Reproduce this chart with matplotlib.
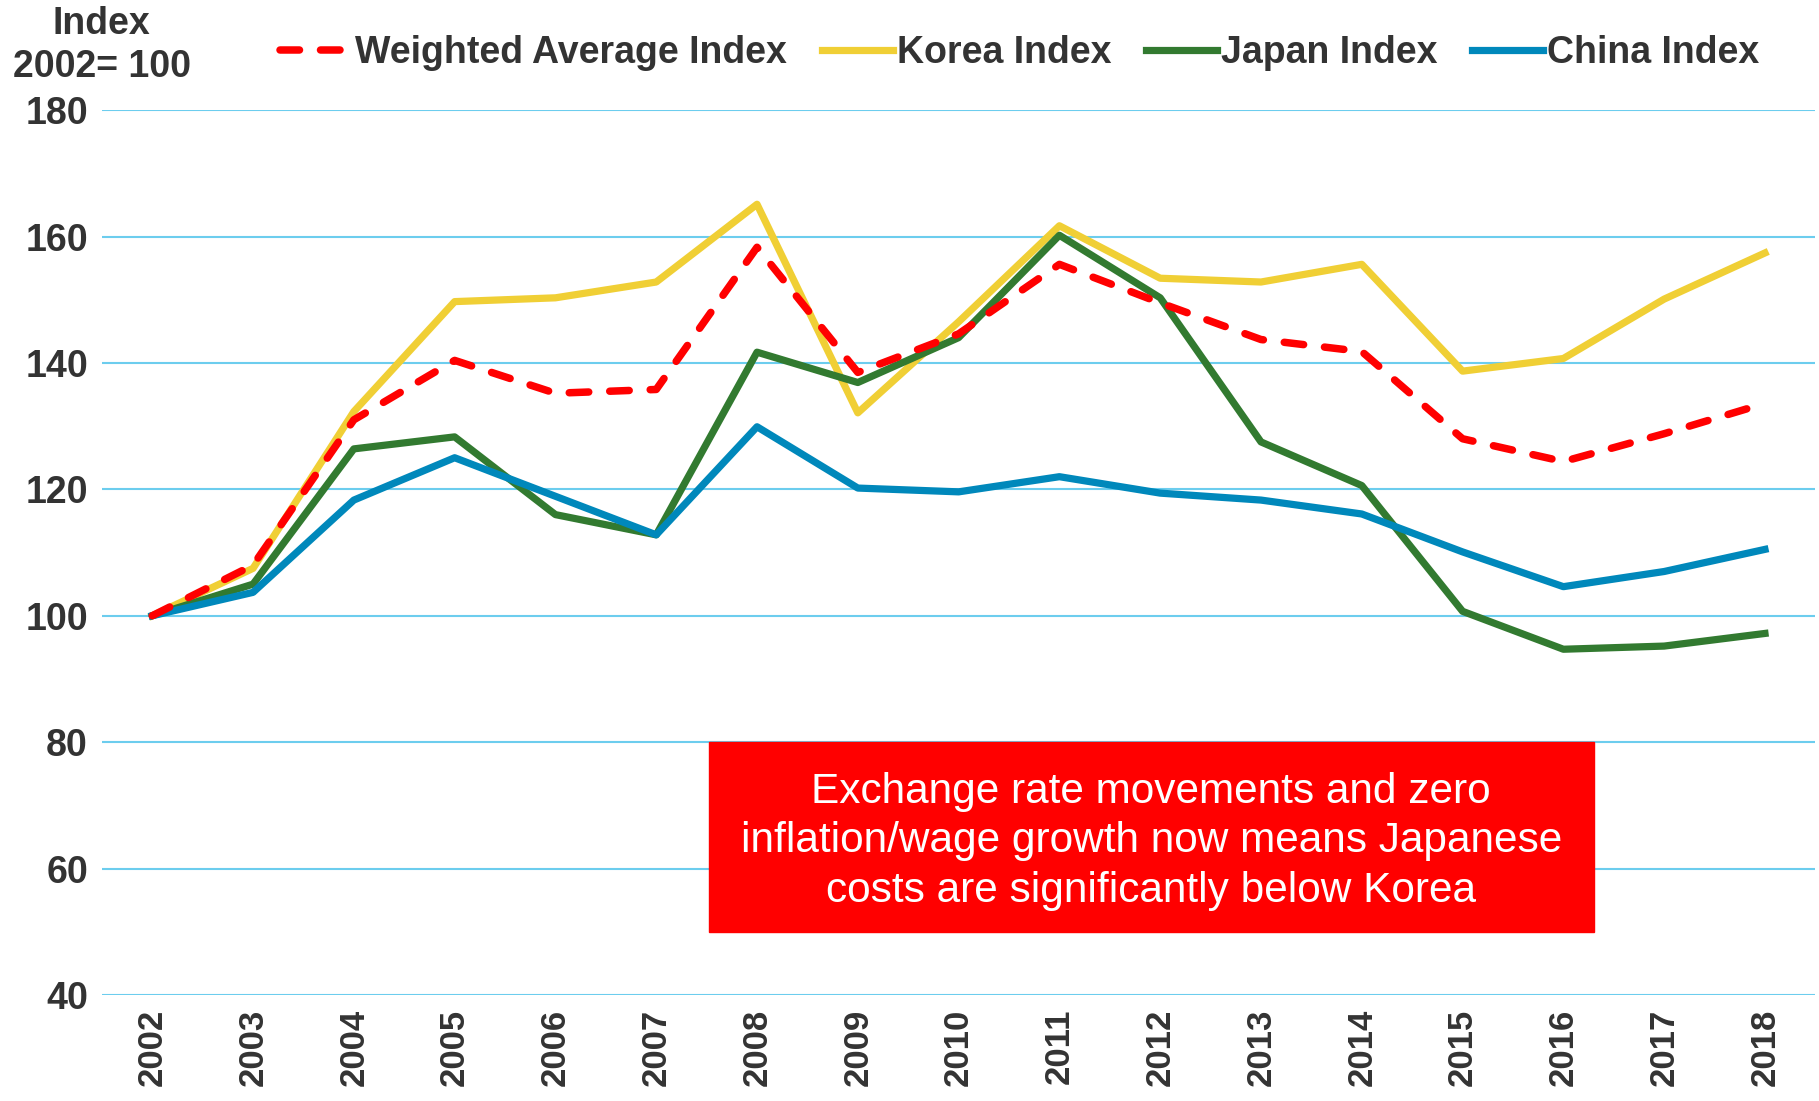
import matplotlib.pyplot as plt
from matplotlib.patches import Rectangle

plt.rcParams['font.family'] = ['Liberation Sans', 'DejaVu Sans']

years = ['2002', '2003', '2004', '2005', '2006', '2007', '2008', '2009', '2010',
         '2011', '2012', '2013', '2014', '2015', '2016', '2017', '2018']
weighted = [100, 108, 131, 140.4, 135.2, 135.8, 158.3, 138.5, 144.6,
            155.6, 149.5, 143.7, 141.8, 128, 124.4, 128.8, 133.6]
korea = [100, 107.5, 132.3, 149.7, 150.3, 152.8, 165.1, 132.1, 146.5,
         161.7, 153.4, 152.8, 155.6, 138.7, 140.7, 150.1, 157.4]
japan = [100, 105, 126.4, 128.3, 116, 112.8, 141.7, 136.9, 144,
         160.2, 150.3, 127.5, 120.6, 100.7, 94.7, 95.2, 97.2]
china = [100, 103.7, 118.3, 125, 118.9, 112.8, 129.9, 120.2, 119.6,
         122, 119.4, 118.3, 116.1, 110.1, 104.6, 107, 110.5]

note = ("Exchange rate movements and zero\n"
        "inflation/wage growth now means Japanese\n"
        "costs are significantly below Korea")

txt = '#333333'
fig = plt.figure(figsize=(18.19, 11.01), dpi=100)
ax = fig.add_axes([0.056, 0.0963, 0.942, 0.8037])

x = range(len(years))
ax.plot(x, korea, color='#F0CF35', lw=5.2, label='Korea Index', zorder=3)
ax.plot(x, japan, color='#327A30', lw=5.2, label='Japan Index', zorder=4)
ax.plot(x, china, color='#0088BB', lw=5.2, label='China Index', zorder=5)
ax.plot(x, weighted, color='#FF0000', lw=5.4, ls=(0, (2.6, 2.8)),
        dash_capstyle='round', label='Weighted Average Index', zorder=6)

ax.add_patch(Rectangle((5.52, 50), 8.78, 30, color='#FF0000', zorder=7))
ax.text(9.91, 64.3, note, color='white', fontsize=30.5, ha='center', va='center',
        linespacing=1.3, zorder=8)

ax.set_xlim(-0.5, 16.5)
ax.set_ylim(40, 180)
ax.set_yticks(range(40, 181, 20))
ax.set_xticks(list(x))
ax.set_xticklabels(years, rotation=90)
ax.grid(axis='y', color='#6CCDEE', lw=1.5)
ax.set_axisbelow(True)
for s in ax.spines.values():
    s.set_visible(False)
ax.tick_params(length=0, labelsize=27, labelcolor=txt, pad=10)
ax.tick_params(axis='x', labelsize=25)
for lab in ax.get_xticklabels() + ax.get_yticklabels():
    lab.set_fontweight('bold')

fig.text(0.056, 0.978, 'Index', ha='center', va='center', fontsize=27,
         fontweight='bold', color=txt)
fig.text(0.056, 0.939, '2002= 100', ha='center', va='center', fontsize=27,
         fontweight='bold', color=txt)

h, l = ax.get_legend_handles_labels()
order = [3, 0, 1, 2]
leg = fig.legend([h[i] for i in order], [l[i] for i in order], ncol=4,
                 loc='center', bbox_to_anchor=(0.5605, 0.9515), frameon=False,
                 fontsize=27, handlelength=1.9, handletextpad=0.1,
                 columnspacing=0.92)
for t in leg.get_texts():
    t.set_fontweight('bold')
    t.set_color(txt)

fig.savefig('out.png', dpi=100)
